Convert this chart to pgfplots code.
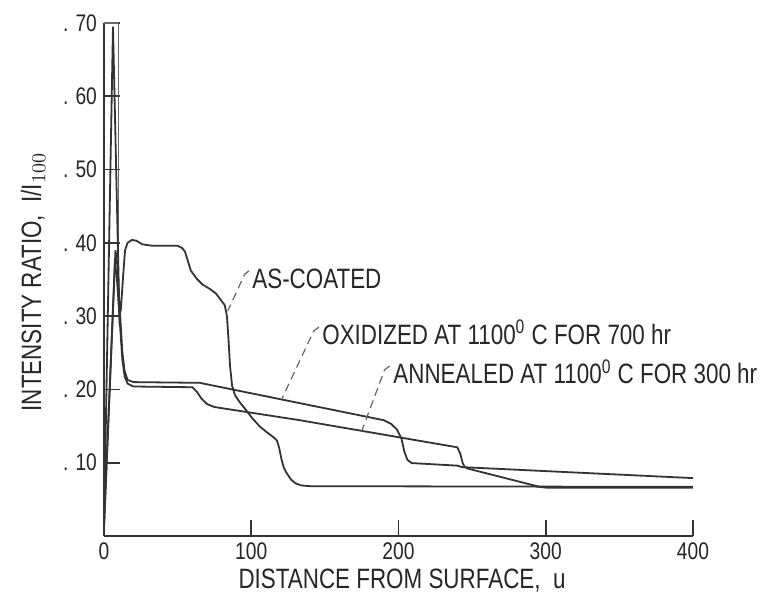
\documentclass[border=0pt]{standalone}
\usepackage{fontspec}
\setmainfont{Liberation Sans}[FakeStretch=0.8]
\usepackage{pgfplots}
\usepackage{pgfplotstable}
\pgfplotsset{compat=1.18}
\pgfplotstableread{
x y
0 0.012
6.1 0.695
10.5 0.30
11.5 0.31
13 0.355
14.3 0.39
16 0.400
19 0.404
22 0.403
26 0.398
33 0.396
50 0.396
53 0.393
55 0.388
57 0.375
59 0.362
63 0.351
67 0.343
72 0.337
76 0.331
79 0.323
82 0.315
83.5 0.300
84.5 0.27
85.6 0.232
87 0.205
89 0.192
92 0.183
96 0.173
101 0.160
106 0.149
111 0.141
115 0.135
117.5 0.130
119 0.120
120.5 0.105
122 0.094
124 0.086
127 0.077
130 0.072
134 0.069
140 0.068
400 0.067
}\ascoated
\pgfplotstableread{
x y
0 0.012
7.8 0.39
9 0.37
11 0.30
12.5 0.25
14 0.225
16 0.213
20 0.210
65 0.209
190 0.158
195 0.153
199 0.145
202 0.133
204 0.115
206 0.104
209 0.0995
240 0.096
243 0.094
400 0.079
}\oxidized
\pgfplotstableread{
x y
0 0.012
7.3 0.37
8.5 0.36
10.8 0.29
12.5 0.24
14 0.218
16 0.208
20 0.204
60 0.203
63 0.197
66 0.188
70 0.180
75 0.176
133 0.158
240 0.121
242 0.112
243.5 0.100
245 0.094
247 0.092
296 0.067
300 0.066
400 0.066
}\annealed
\pgfplotstableread{
x y
0.3 0.70
10 0.70
10 0.32
}\topbox
\newcommand{\lab}{\fontsize{14}{16}\selectfont}
\begin{document}
\begin{tikzpicture}
\useasboundingbox (-52pt,-32pt) rectangle (328pt,268pt);
\begin{axis}[
  at={(0,0)}, anchor=south west,
  scale only axis, width=294.5pt, height=256.5pt,
  xmin=0, xmax=400, ymin=0, ymax=0.70,
  axis x line=bottom, axis y line=left,
  axis line style={-, line width=0.9pt, black!80},
  xtick={0,100,200,300,400},
  xticklabels={0,100,200,300,400},
  ytick={0.1,0.2,0.3,0.4,0.5,0.6,0.7},
  yticklabels={. 10,. 20,. 30,. 40,. 50,. 60,. 70},
  tick align=inside, major tick length=8pt,
  tick style={line width=0.8pt, black!80},
  ticklabel style={font=\fontsize{12}{14}\selectfont, text=black!85},
  /pgf/number format/assume math mode=true,
  xlabel={DISTANCE FROM SURFACE,\ \ u},
  ylabel={INTENSITY RATIO,\ \ I/I$_{100}$},
  xlabel style={font=\lab, text=black!85, at={(axis description cs:0.506,-0.086)}, anchor=center},
  ylabel style={font=\lab, text=black!85, at={(axis description cs:-0.1205,0.495)}, anchor=center},
  clip=false,
]
\addplot[black!60, line width=0.6pt, no markers] table[x=x,y=y] {\topbox};
\addplot[black!80, line width=0.9pt, no markers] table[x=x,y=y] {\ascoated};
\addplot[black!80, line width=0.9pt, no markers] table[x=x,y=y] {\oxidized};
\addplot[black!80, line width=0.9pt, no markers] table[x=x,y=y] {\annealed};

\node[font=\lab, text=black!85, anchor=west, inner sep=0] at (axis cs:100.5,0.3506) {AS-COATED};
\node[font=\lab, text=black!85, anchor=west, inner sep=0] at (axis cs:148,0.278) {OXIDIZED AT 1100\textsuperscript{0} C FOR 700 hr};
\node[font=\lab, text=black!85, anchor=west, inner sep=0] at (axis cs:196.3,0.2237) {ANNEALED AT 1100\textsuperscript{0} C FOR 300 hr};

\draw[black!60, line width=0.6pt, dash pattern=on 4pt off 2.5pt] (axis cs:98.5,0.362) -- (axis cs:95.5,0.357) -- (axis cs:84,0.307);
\draw[black!60, line width=0.6pt, dash pattern=on 4pt off 2.5pt] (axis cs:146,0.285) -- (axis cs:142.5,0.280) -- (axis cs:121,0.188);
\draw[black!60, line width=0.6pt, dash pattern=on 4pt off 2.5pt] (axis cs:194,0.232) -- (axis cs:190.5,0.2265) -- (axis cs:175,0.143);
\end{axis}
\end{tikzpicture}
\end{document}
